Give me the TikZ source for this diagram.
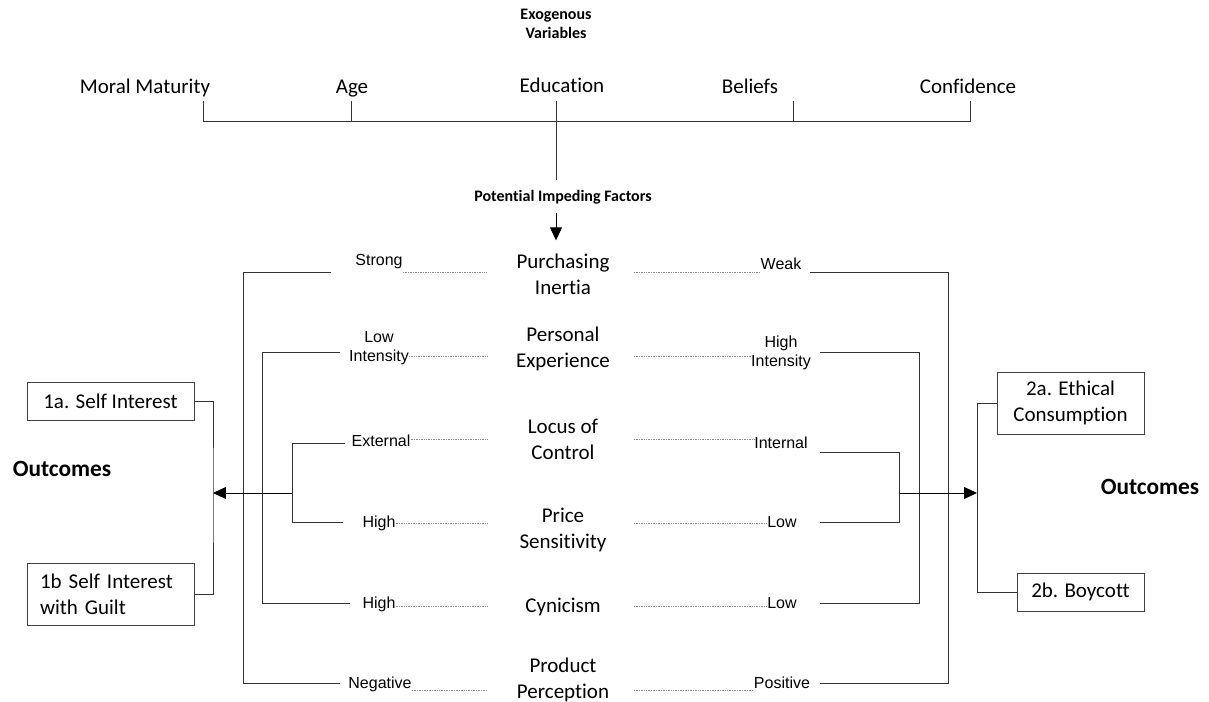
\documentclass[tikz,border=0pt]{standalone}
\usepackage{fontspec}
\setmainfont{Carlito}[Ligatures=NoCommon]
\newfontfamily\arialfont{Liberation Sans}
\usetikzlibrary{arrows.meta}
\newlength\pxu
\setlength\pxu{0.025cm}
\tikzset{
  varname/.style={font=\fontsize{14.94}{18.5}\selectfont, inner sep=0pt, text height=0.7em, text depth=0.2em},
  factor/.style={font=\fontsize{14.94}{18.5}\selectfont, align=center, inner sep=0pt},
  level/.style={font=\arialfont\fontsize{11.38}{13.6}\selectfont, inner sep=0pt, text height=0.72em, text depth=0.2em},
  levels/.style={font=\arialfont\fontsize{11.38}{13.6}\selectfont, align=center, inner sep=0pt},
  heading/.style={font=\bfseries\fontsize{11.38}{13.6}\selectfont, align=center, inner sep=0pt},
  outcome/.style={font=\bfseries\fontsize{16.6}{20}\selectfont, inner sep=0pt},
  outbox/.style={draw=black!75, line width=0.7pt, font=\fontsize{14.94}{18.5}\selectfont, inner sep=0pt},
  link/.style={draw=black!80, line width=0.7pt},
  guide/.style={draw=black!45, line width=0.5pt, dash pattern=on 0.6pt off 0.6pt},
  tip/.style={draw=black, line width=0.7pt, -{Triangle[length=9.2pt,width=8.5pt]}},
}
\begin{document}
\begin{tikzpicture}[x=0.025cm,y=-0.025cm]
\useasboundingbox (0,0) rectangle (1209,702);
% exogenous variables
\node[heading] (exo) at (556,24) {Exogenous\\Variables};
\node[varname] (mm) at (145,90) {Moral Maturity};
\node[varname] (age) at (352,90) {Age};
\node[varname] (edu) at (562,89) {Education};
\node[varname] (bel) at (750,90) {Beliefs};
\node[varname] (conf) at (968,90) {Confidence};
% ticks and bus
\coordinate (tmm) at (203,101);
\coordinate (tage) at (351,101);
\coordinate (tedu) at (556,101);
\coordinate (tbel) at (793,101);
\coordinate (tconf) at (970,101);
\coordinate (bus) at (0,121);
\draw[link] (tmm) -- (tmm |- bus) -- (tconf |- bus) -- (tconf);
\draw[link] (tage) -- (tage |- bus);
\draw[link] (tbel) -- (tbel |- bus);
\draw[link] (tedu) -- ++(0,79);
% impeding factors
\node[heading] (pif) at (563,197) {Potential Impeding Factors};
\node[factor] (pi) at (563,274) {Purchasing\\Inertia};
\node[factor] (pe) at (563,349) {Personal\\Experience};
\node[factor] (lc) at (563,439) {Locus of\\Control};
\node[factor] (ps) at (563,530) {Price\\Sensitivity};
\node[factor] (cy) at (563,607) {Cynicism};
\node[factor] (pp) at (563,680) {Product\\Perception};
\coordinate (ta) at (556,213);
\draw[tip, shorten >=13\pxu] (ta) -- (ta |- pi.north);
% left levels
\node[level] (strong) at (379,262) {Strong};
\node[levels] (lowint) at (379,348) {Low\\Intensity};
\node[level] (extl) at (381,443) {External};
\node[level] (highp) at (379,524) {High};
\node[level] (highc) at (379,605) {High};
\node[level] (negv) at (380,685) {Negative};
% right levels
\node[level] (weak) at (781,266) {Weak};
\node[levels] (highint) at (781,353) {High\\Intensity};
\node[level] (intl) at (781,445) {Internal};
\node[level] (lowp) at (782,524) {Low};
\node[level] (lowc) at (782,605) {Low};
\node[level] (posv) at (782,685) {Positive};
% dotted guides
\coordinate (r1) at (0,272);
\coordinate (r2) at (0,356);
\coordinate (r3) at (0,439);
\coordinate (r4) at (0,523);
\coordinate (r5) at (0,606);
\coordinate (r6) at (0,690);
\coordinate (gl) at (487,0);
\coordinate (gr) at (634,0);
\draw[guide] (strong.east |- r1) -- (gl |- r1);
\draw[guide] (lowint.east |- r2) -- (gl |- r2);
\draw[guide] (extl.east |- r3) -- (gl |- r3);
\draw[guide] (highp.east |- r4) -- (gl |- r4);
\draw[guide] (highc.east |- r5) -- (gl |- r5);
\draw[guide] (negv.east |- r6) -- (gl |- r6);
\draw[guide] (gr |- r1) -- (weak.west |- r1);
\draw[guide] (gr |- r2) -- (highint.west |- r2);
\draw[guide] (gr |- r3) -- (intl.west |- r3);
\draw[guide] (gr |- r4) -- (lowp.west |- r4);
\draw[guide] (gr |- r5) -- (lowc.west |- r5);
\draw[guide] (gr |- r6) -- (posv.west |- r6);
% outcomes
\node[outcome] (outl) at (62,469) {Outcomes};
\node[outcome] (outr) at (1150,487) {Outcomes};
\node[outbox, minimum width=167\pxu, minimum height=38\pxu] (sia) at (110.5,401) {1a. Self Interest};
\node[outbox, minimum width=167\pxu, minimum height=62\pxu, align=left, text width=141\pxu] (sib) at (110.5,594) {1b Self Interest\\with Guilt};
\node[outbox, minimum width=147\pxu, minimum height=62\pxu, align=center] (eth) at (1070.5,403) {2a. Ethical\\Consumption};
\node[outbox, minimum width=127\pxu, minimum height=38\pxu] (boy) at (1080.5,592) {2b. Boycott};
\coordinate (jl) at (213,493);
\coordinate (jr) at (977,493);
\draw[link] (sia.east) -| (jl) |- (sib.east);
\draw[link] (eth.west) -| (jr) |- (boy.west);
% left brackets
\coordinate (lo) at (243,0);
\coordinate (lm) at (262,0);
\coordinate (li) at (292,0);
\coordinate (ea) at (331,272);
\coordinate (ef) at (340,683);
\draw[link] (ea) -- (ea -| lo) -- (ef -| lo) -- (ef);
\coordinate (eb) at (340,352);
\coordinate (ee) at (350,603);
\draw[link] (eb) -- (eb -| lm) -- (ee -| lm) -- (ee);
\coordinate (ec) at (345,443);
\coordinate (ed) at (343,522);
\draw[link] (ec) -- (ec -| li) -- (ed -| li) -- (ed);
\draw[tip] (jl -| li) -- (jl);
% right brackets
\coordinate (ro) at (948,0);
\coordinate (rm) at (919,0);
\coordinate (ri) at (899,0);
\coordinate (wa) at (810,272);
\coordinate (wf) at (820,683);
\draw[link] (wa) -- (wa -| ro) -- (wf -| ro) -- (wf);
\coordinate (wb) at (820,352);
\coordinate (we) at (820,603);
\draw[link] (wb) -- (wb -| rm) -- (we -| rm) -- (we);
\coordinate (wc) at (820,452);
\coordinate (wd) at (820,522);
\draw[link] (wc) -- (wc -| ri) -- (wd -| ri) -- (wd);
\draw[tip] (jr -| ri) -- (jr);
\end{tikzpicture}
\end{document}
